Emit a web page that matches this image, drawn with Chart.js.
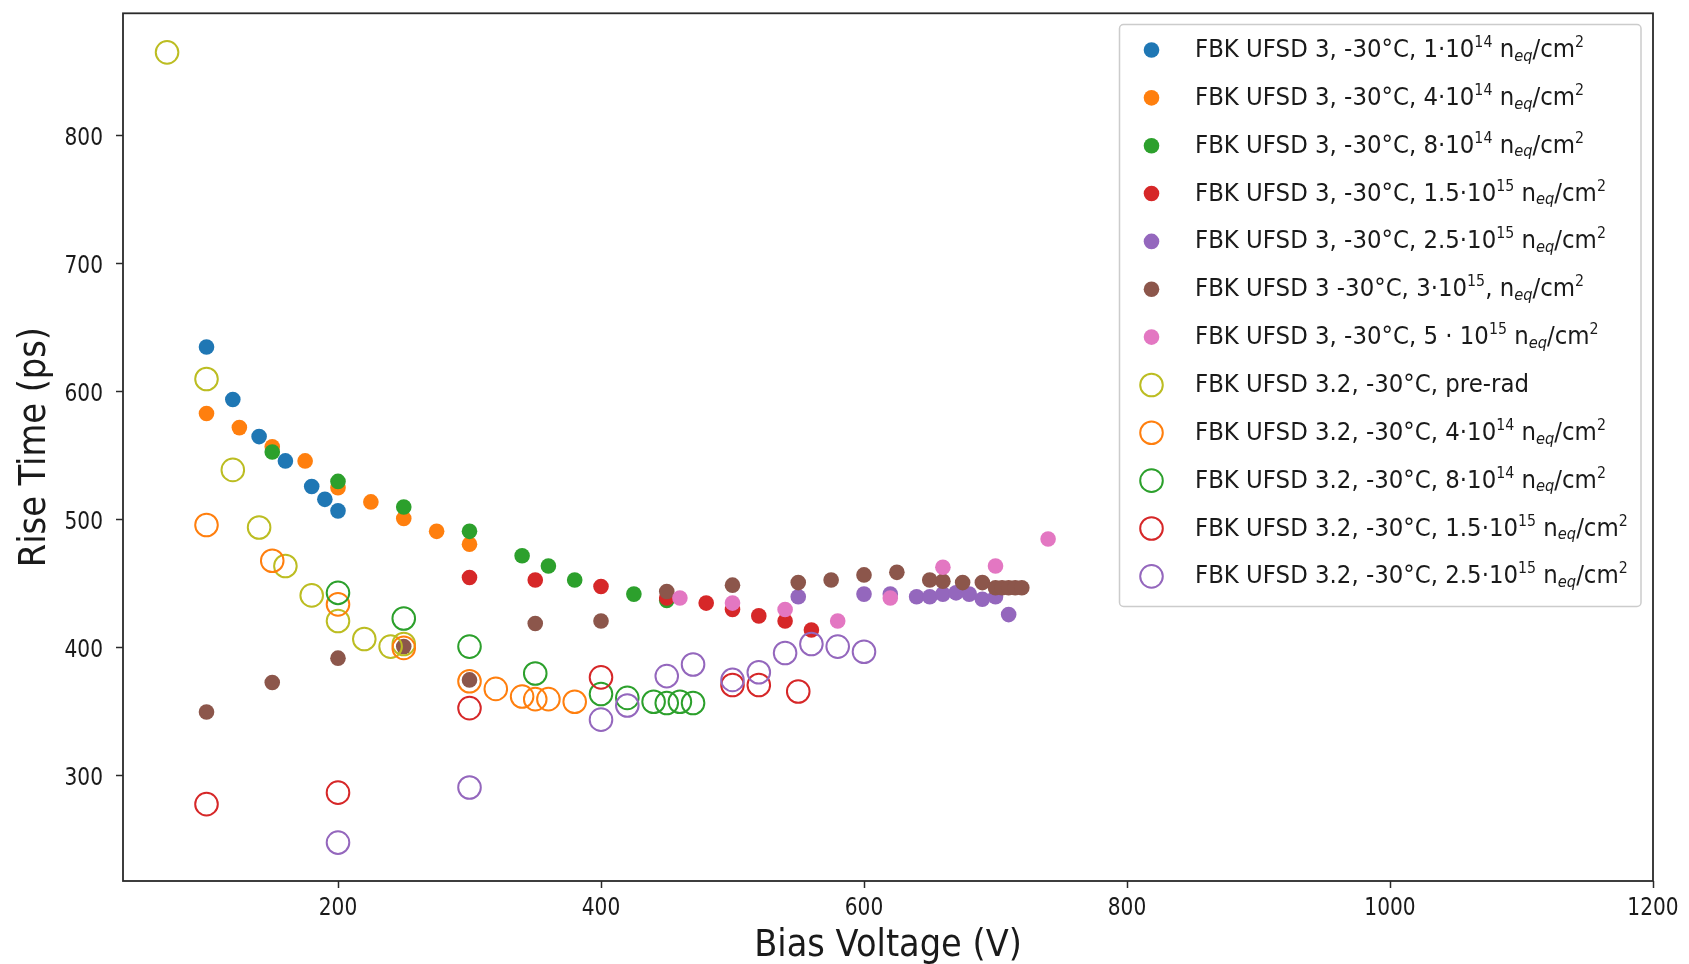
<!DOCTYPE html>
<html>
<head>
<meta charset="utf-8">
<title>Rise time vs bias voltage</title>
<script src="https://cdn.jsdelivr.net/npm/chart.js@4.4.4/dist/chart.umd.min.js"></script>
<style>
    html, body { margin: 0; padding: 0; background: #fff; }
    canvas { display: block; }
</style>
</head>
<body>
<canvas id="riseTime" width="1689" height="964"></canvas>
<script>
// axis ticks
const xTicks = [200, 400, 600, 800, 1000, 1200];
const yTicks = [300, 400, 500, 600, 700, 800];

// FBK UFSD 3 (filled markers): bias voltage (V) and rise time (ps)
const u3_1e14_V = [100, 120, 140, 160, 180, 190, 200];
const u3_1e14_T = [635, 594, 565, 546, 526, 516, 507];

const u3_4e14_V = [100, 125, 150, 175, 200, 225, 250, 275, 300];
const u3_4e14_T = [583, 572, 557, 546, 525, 514, 501, 491, 481];

const u3_8e14_V = [150, 200, 250, 300, 340, 360, 380, 425, 450];
const u3_8e14_T = [553, 530, 510, 491, 472, 464, 453, 442, 437];

const u3_15e14_V = [300, 350, 400, 450, 480, 500, 520, 540, 560];
const u3_15e14_T = [455, 453, 448, 439, 435, 430, 425, 421, 414];

const u3_25e14_V = [550, 600, 620, 640, 650, 660, 670, 680, 690, 700, 710];
const u3_25e14_T = [440, 442, 442, 440, 440, 442, 443, 442, 438, 440, 426];

const u3_3e15_V = [100, 150, 200, 250, 300, 350, 400, 450, 500, 550, 575, 600, 625, 650, 660, 675, 690, 700, 705, 710, 715, 720];
const u3_3e15_T = [350, 373, 392, 401, 375, 419, 421, 444, 449, 451, 453, 457, 459, 453, 452, 451, 451, 447, 447, 447, 447, 447];

const u3_5e15_V = [460, 500, 540, 580, 620, 660, 700, 740];
const u3_5e15_T = [439, 435, 430, 421, 439, 463, 464, 485];

// FBK UFSD 3.2 (open markers)
const u32_pre_V = [70, 100, 120, 140, 160, 180, 200, 220, 240, 250];
const u32_pre_T = [865, 610, 539, 494, 464, 441, 421, 407, 401, 403];

const u32_4e14_V = [100, 150, 200, 250, 300, 320, 340, 350, 360, 380];
const u32_4e14_T = [496, 468, 434, 400, 374, 368, 362, 360, 360, 358];

const u32_8e14_V = [200, 250, 300, 350, 400, 420, 440, 450, 460, 470];
const u32_8e14_T = [443, 423, 401, 380, 364, 361, 358, 357, 358, 357];

const u32_15e14_V = [100, 200, 300, 400, 500, 520, 550];
const u32_15e14_T = [278, 287, 353, 377, 371, 371, 366];

const u32_25e14_V = [200, 300, 400, 420, 450, 470, 500, 520, 540, 560, 580, 600];
const u32_25e14_T = [248, 291, 344, 355, 378, 387, 375, 381, 396, 403, 401, 397];

// legend labels, ^{..} = superscript, _{..} = subscript
const labels = [
    'FBK UFSD 3, -30°C, 1·10^{14} n_{eq}/cm^{2}',
    'FBK UFSD 3, -30°C, 4·10^{14} n_{eq}/cm^{2}',
    'FBK UFSD 3, -30°C, 8·10^{14} n_{eq}/cm^{2}',
    'FBK UFSD 3, -30°C, 1.5·10^{15} n_{eq}/cm^{2}',
    'FBK UFSD 3, -30°C, 2.5·10^{15} n_{eq}/cm^{2}',
    'FBK UFSD 3 -30°C, 3·10^{15}, n_{eq}/cm^{2}',
    'FBK UFSD 3, -30°C, 5 · 10^{15} n_{eq}/cm^{2}',
    'FBK UFSD 3.2, -30°C, pre-rad',
    'FBK UFSD 3.2, -30°C, 4·10^{14} n_{eq}/cm^{2}',
    'FBK UFSD 3.2, -30°C, 8·10^{14} n_{eq}/cm^{2}',
    'FBK UFSD 3.2, -30°C, 1.5·10^{15} n_{eq}/cm^{2}',
    'FBK UFSD 3.2, -30°C, 2.5·10^{15} n_{eq}/cm^{2}'
];

const series = [
    { v: u3_1e14_V, t: u3_1e14_T, color: '#1f77b4', open: false },
    { v: u3_4e14_V, t: u3_4e14_T, color: '#ff7f0e', open: false },
    { v: u3_8e14_V, t: u3_8e14_T, color: '#2ca02c', open: false },
    { v: u3_15e14_V, t: u3_15e14_T, color: '#d62728', open: false },
    { v: u3_25e14_V, t: u3_25e14_T, color: '#9467bd', open: false },
    { v: u3_3e15_V, t: u3_3e15_T, color: '#8c564b', open: false },
    { v: u3_5e15_V, t: u3_5e15_T, color: '#e377c2', open: false },
    { v: u32_pre_V, t: u32_pre_T, color: '#bcbd22', open: true },
    { v: u32_4e14_V, t: u32_4e14_T, color: '#ff7f0e', open: true },
    { v: u32_8e14_V, t: u32_8e14_T, color: '#2ca02c', open: true },
    { v: u32_15e14_V, t: u32_15e14_T, color: '#d62728', open: true },
    { v: u32_25e14_V, t: u32_25e14_T, color: '#9467bd', open: true }
];

const FONT = '"DejaVu Sans", sans-serif';
const TEXT = '#1a1a1a';
const FILLED_R = 7.8;
const OPEN_R = 11.3;

function parseRich(label) {
    const parts = [];
    const re = /([\^_])\{([^}]*)\}/g;
    let last = 0, m;
    while ((m = re.exec(label))) {
        if (m.index > last) parts.push({ text: label.slice(last, m.index), kind: 'normal' });
        parts.push({ text: m[2], kind: m[1] === '^' ? 'sup' : 'sub' });
        last = re.lastIndex;
    }
    if (last < label.length) parts.push({ text: label.slice(last), kind: 'normal' });
    return parts;
}

// text is drawn a little narrower than the stock face
function drawRich(ctx, label, x, y, size, sx) {
    ctx.save();
    ctx.translate(x, y);
    ctx.scale(sx, 1);
    ctx.textAlign = 'left';
    ctx.textBaseline = 'alphabetic';
    ctx.fillStyle = TEXT;
    let cx = 0;
    for (const p of parseRich(label)) {
        let fs = size, dy = 0, style = '';
        if (p.kind === 'sup') { fs = size * 0.62; dy = -size * 0.4; }
        if (p.kind === 'sub') { fs = size * 0.64; dy = size * 0.15; style = 'italic '; }
        ctx.font = `${style}${fs}px ${FONT}`;
        ctx.fillText(p.text, cx, dy);
        cx += ctx.measureText(p.text).width;
    }
    ctx.restore();
}

function drawText(ctx, str, x, y, size, sx, align, angle) {
    ctx.save();
    ctx.translate(x, y);
    if (angle) ctx.rotate(angle);
    ctx.scale(sx, 1);
    ctx.font = `${size}px ${FONT}`;
    ctx.fillStyle = TEXT;
    ctx.textAlign = align;
    ctx.textBaseline = 'alphabetic';
    ctx.fillText(str, 0, 0);
    ctx.restore();
}

function marker(ctx, cx, cy, s) {
    ctx.beginPath();
    if (s.open) {
        ctx.arc(cx, cy, OPEN_R, 0, Math.PI * 2);
        ctx.lineWidth = 2;
        ctx.strokeStyle = s.color;
        ctx.stroke();
    } else {
        ctx.arc(cx, cy, FILLED_R, 0, Math.PI * 2);
        ctx.fillStyle = s.color;
        ctx.fill();
    }
}

const decorations = {
    id: 'decorations',
    afterDraw(chart) {
        const ctx = chart.ctx;
        const a = chart.chartArea;
        const xs = chart.scales.x, ys = chart.scales.y;

        // frame
        ctx.save();
        ctx.strokeStyle = '#2a2a2a';
        ctx.lineWidth = 1.8;
        ctx.strokeRect(a.left, a.top, a.right - a.left, a.bottom - a.top);
        ctx.restore();

        // tick labels
        xTicks.forEach(v => drawText(ctx, String(v), xs.getPixelForValue(v), 915, 24, 0.84, 'center'));
        yTicks.forEach(v => drawText(ctx, String(v), 103, ys.getPixelForValue(v) + 9, 24, 0.84, 'right'));

        // axis titles
        drawText(ctx, 'Bias Voltage (V)', (a.left + a.right) / 2, 956, 37, 0.91, 'center');
        drawText(ctx, 'Rise Time (ps)', 45, (a.top + a.bottom) / 2, 37, 0.91, 'center', -Math.PI / 2);

        // legend
        const lx = 1119.5, ly = 24.5, lw = 521.5, lh = 582;
        ctx.save();
        ctx.beginPath();
        ctx.roundRect(lx, ly, lw, lh, 4);
        ctx.fillStyle = 'rgba(255,255,255,0.8)';
        ctx.fill();
        ctx.strokeStyle = '#cccccc';
        ctx.lineWidth = 1.5;
        ctx.stroke();
        ctx.restore();

        series.forEach((s, i) => {
            const cy = 50 + i * 47.85;
            ctx.save();
            marker(ctx, 1151.5, cy, s);
            ctx.restore();
            drawRich(ctx, labels[i], 1195, cy + 7, 25, 0.915);
        });
    }
};

const datasets = series.map((s, i) => ({
    label: labels[i],
    data: s.v.map((v, k) => ({ x: v, y: s.t[k] })),
    pointRadius: s.open ? OPEN_R : FILLED_R,
    pointBorderWidth: s.open ? 2 : 0,
    pointBackgroundColor: s.open ? 'rgba(0,0,0,0)' : s.color,
    pointBorderColor: s.color,
    showLine: false,
    // first series at the bottom of the stack
    order: series.length - i
}));

const tickGrid = {
    drawOnChartArea: false,
    drawTicks: true,
    tickLength: 7,
    tickColor: '#2a2a2a',
    tickWidth: 1.5
};

new Chart(document.getElementById('riseTime'), {
    type: 'scatter',
    data: { datasets },
    options: {
        responsive: false,
        animation: false,
        devicePixelRatio: 1,
        events: [],
        layout: { padding: { top: 13, right: 36, left: 0, bottom: 0 } },
        plugins: {
            legend: { display: false },
            tooltip: { enabled: false }
        },
        scales: {
            x: {
                type: 'linear',
                min: 36.5,
                max: 1200,
                afterBuildTicks: sc => { sc.ticks = xTicks.map(v => ({ value: v })); },
                afterFit: sc => { sc.height = 83; },
                ticks: { display: false },
                grid: tickGrid,
                border: { display: false }
            },
            y: {
                type: 'linear',
                min: 218,
                max: 895.5,
                afterBuildTicks: sc => { sc.ticks = yTicks.map(v => ({ value: v })); },
                afterFit: sc => { sc.width = 123; },
                ticks: { display: false },
                grid: tickGrid,
                border: { display: false }
            }
        }
    },
    plugins: [decorations]
});
</script>
</body>
</html>
